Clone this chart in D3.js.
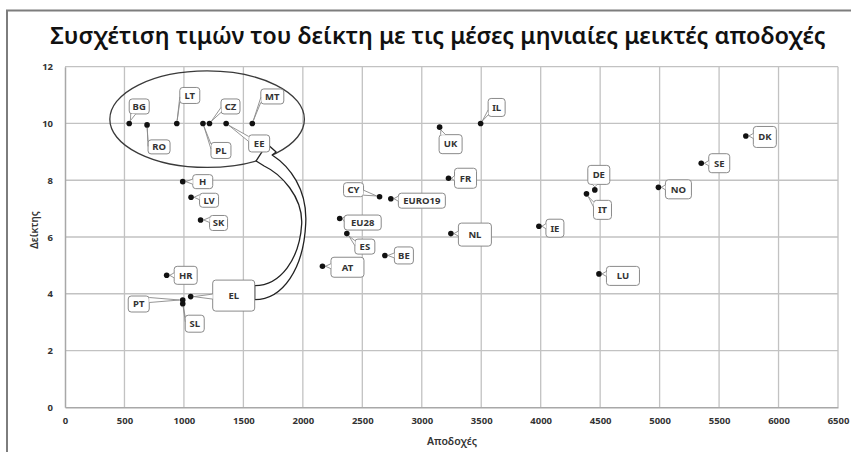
<!DOCTYPE html>
<html>
<head>
<meta charset="utf-8">
<script src="https://cdn.jsdelivr.net/npm/d3@7"></script>
<style>
  html, body { margin: 0; padding: 0; background: #fff; }
  svg { display: block; }
</style>
</head>
<body>
<svg id="chart"></svg>
<script>
const WIDTH = 851;
const HEIGHT = 452;
const PLOT = { left: 65, right: 838, top: 66.7, bottom: 407.3 };

const TITLE = 'Συσχέτιση τιμών του δείκτη με τις μέσες μηνιαίες μεικτές αποδοχές';
const X_LABEL = 'Αποδοχές';
const Y_LABEL = 'Δείκτης';

// data
const countries = ['BG', 'RO', 'LT', 'PL', 'CZ', 'EE', 'MT', 'H', 'LV', 'SK', 'HR', 'PT', 'SL', 'EL',
  'CY', 'EURO19', 'EU28', 'ES', 'AT', 'BE', 'UK', 'IL', 'FR', 'NL', 'IE', 'IT', 'DE', 'LU', 'NO', 'SE', 'DK'];
const wages = [540, 690, 940, 1160, 1215, 1355, 1575, 990, 1060, 1140, 855, 990, 990, 1057,
  2645, 2740, 2310, 2370, 2165, 2690, 3150, 3495, 3225, 3245, 3985, 4385, 4455, 4490, 4990, 5350, 5725];
const indexValues = [10.0, 9.95, 10.0, 10.0, 10.0, 10.0, 10.0, 7.95, 7.4, 6.6, 4.65, 3.78, 3.65, 3.9,
  7.42, 7.35, 6.65, 6.12, 4.97, 5.35, 9.87, 10.0, 8.07, 6.12, 6.38, 7.52, 7.66, 4.7, 7.75, 8.6, 9.56];

const xTicks = [0, 500, 1000, 1500, 2000, 2500, 3000, 3500, 4000, 4500, 5000, 5500, 6000, 6500];
const yTicks = [0, 2, 4, 6, 8, 10, 12];

// callout box placement relative to its point: [dx, dy, w, h] (pixels)
const calloutLayout = {
  BG: [10, -17, 20, 15], RO: [12, 22, 22, 14], LT: [13, -28, 20, 16], PL: [18, 27, 20, 16],
  CZ: [21, -17, 19, 15], EE: [33, 20, 21, 17], MT: [20, -27, 23, 15], H: [20, 0, 20, 14],
  LV: [18, 3, 19, 14], SK: [18, 3, 18, 15], HR: [19, 0, 23, 18], PT: [-44, 4, 21, 16],
  SL: [12, 20, 19, 17], EL: [43, -1, 42, 31], CY: [-26, -7, 20, 14], EURO19: [31, 2, 47, 15],
  EU28: [23, 4, 37, 15], ES: [18, 13, 20, 15], AT: [25, 1, 33, 20], BE: [19, 0, 19, 17],
  UK: [11, 17, 23, 19], IL: [16, -16, 17, 18], FR: [17, 0, 22, 20], NL: [24, 1, 33, 23],
  IE: [16, 2, 18, 18], IT: [16, 16, 18, 19], DE: [4, -15, 22, 19], LU: [24, 2, 33, 19],
  NO: [20, 2, 26, 19], SE: [18, 0, 21, 19], DK: [19, 1, 23, 21]
};

// the ellipse round the top-left group, in data units
const GROUP_ELLIPSE = { cx: 1195, cy: 10.15, rx: 818, ry: 1.7 };

const FONT = '"Noto Sans", "Open Sans", sans-serif';

const svg = d3.select('#chart')
  .attr('width', WIDTH)
  .attr('height', HEIGHT)
  .style('font-family', FONT);

const x = d3.scaleLinear().domain([0, 6500]).range([PLOT.left, PLOT.right]);
const y = d3.scaleLinear().domain([0, 12]).range([PLOT.bottom, PLOT.top]);

// outer frame (top and left only show in the picture)
svg.append('path')
  .attr('d', `M7,${HEIGHT} L7,10.5 L${WIDTH},10.5`)
  .attr('fill', 'none')
  .attr('stroke', '#7d7d7d')
  .attr('stroke-width', 2);

// title, fitted to the width it takes in the picture
const title = svg.append('text')
  .attr('x', 438)
  .attr('y', 44)
  .attr('text-anchor', 'middle')
  .attr('font-size', 23)
  .attr('font-weight', 600)
  .attr('fill', '#111')
  .text(TITLE);
const titleLen = title.node().getComputedTextLength();
title.attr('font-size', 23 * 776 / titleLen);

// grid
const grid = svg.append('g').attr('stroke', '#c2c2c2').attr('stroke-width', 1.3);
grid.selectAll('.vline')
  .data(xTicks.filter(d => d > 0))
  .join('line')
  .attr('x1', d => x(d)).attr('x2', d => x(d))
  .attr('y1', y(12)).attr('y2', y(0));
grid.selectAll('.hline')
  .data(yTicks.filter(d => d > 0))
  .join('line')
  .attr('x1', x(0)).attr('x2', x(6500))
  .attr('y1', d => y(d)).attr('y2', d => y(d));

// axes
const xAxis = svg.append('g')
  .attr('transform', `translate(0,${y(0)})`)
  .call(d3.axisBottom(x).tickValues(xTicks).tickSize(0).tickPadding(10).tickFormat(d3.format('d')));
const yAxis = svg.append('g')
  .attr('transform', `translate(${x(0)},0)`)
  .call(d3.axisLeft(y).tickValues(yTicks).tickSize(0).tickPadding(12).tickFormat(d3.format('d')));
[xAxis, yAxis].forEach(ax => {
  ax.select('.domain').attr('stroke', '#a8a8a8').attr('stroke-width', 1.5);
  ax.selectAll('text')
    .attr('font-family', FONT)
    .attr('font-size', 9.5)
    .attr('font-weight', 700)
    .attr('fill', '#333');
});

svg.append('text')
  .attr('x', 452)
  .attr('y', 445)
  .attr('text-anchor', 'middle')
  .attr('font-size', 10.5)
  .attr('font-weight', 600)
  .attr('fill', '#333')
  .text(X_LABEL);

svg.append('text')
  .attr('transform', 'translate(38,230) rotate(-90)')
  .attr('text-anchor', 'middle')
  .attr('font-size', 10)
  .attr('font-weight', 600)
  .attr('fill', '#333')
  .text(Y_LABEL);

// ellipse round the lower-paid group
svg.append('ellipse')
  .attr('cx', x(GROUP_ELLIPSE.cx))
  .attr('cy', y(GROUP_ELLIPSE.cy))
  .attr('rx', x(GROUP_ELLIPSE.rx) - x(0))
  .attr('ry', y(0) - y(GROUP_ELLIPSE.ry))
  .attr('fill', 'none')
  .attr('stroke', '#3a3a3a')
  .attr('stroke-width', 1.3);

const points = countries.map((c, i) => {
  const px = x(wages[i]);
  const py = y(indexValues[i]);
  const [dx, dy, w, h] = calloutLayout[c];
  const cx = px + dx;
  const cy = py + dy;
  return { name: c, px, py, x0: cx - w / 2, x1: cx + w / 2, y0: cy - h / 2, y1: cy + h / 2, cx, cy };
});

// curved arrow from the EL box up to the EE box
const el = points.find(d => d.name === 'EL');
const ee = points.find(d => d.name === 'EE');
{
  const sx = el.x1;             // arrow leaves the right side of EL
  const sTop = el.cy - 10;
  const sBot = el.cy + 4;
  const tx = ee.cx + 8;         // tip at the bottom of EE
  const ty = ee.y1 - 8;
  const bend = sx + 51;
  const mid = (sTop + ty) / 2 + 4;
  const d = [
    `M${tx},${ty}`,
    `L${tx + 9},${ty + 8}`,
    `L${tx + 5},${ty + 11}`,
    `C${tx + 22},${ty + 22} ${bend + 2},${mid - 30} ${bend},${mid + 5}`,
    `C${bend - 2},${mid + 50} ${sx + 28},${sBot} ${sx},${sBot}`,
    `L${sx},${sTop}`,
    `C${sx + 26},${sTop} ${bend - 6},${mid + 40} ${bend - 4},${mid + 5}`,
    `C${bend - 3},${mid - 22} ${tx + 14},${ty + 30} ${tx - 3},${ty + 22}`,
    `L${tx - 11},${ty + 17}`,
    'Z'
  ].join(' ');
  svg.append('path')
    .attr('d', d)
    .attr('fill', '#fff')
    .attr('stroke', '#222')
    .attr('stroke-width', 1.3)
    .attr('stroke-linejoin', 'round');
}

// callouts
const clamp = (v, a, b) => Math.max(a, Math.min(b, v));
function tailPath(d) {
  let ax, ay, b1, b2;
  if (d.px < d.x0) {
    ax = d.x0; ay = clamp(d.py, d.y0 + 4, d.y1 - 4);
    b1 = [ax, ay - 2.5]; b2 = [ax, ay + 2.5];
  } else if (d.px > d.x1) {
    ax = d.x1; ay = clamp(d.py, d.y0 + 4, d.y1 - 4);
    b1 = [ax, ay - 2.5]; b2 = [ax, ay + 2.5];
  } else if (d.py < d.y0) {
    ay = d.y0; ax = clamp(d.px, d.x0 + 4, d.x1 - 4);
    b1 = [ax - 2.5, ay]; b2 = [ax + 2.5, ay];
  } else {
    ay = d.y1; ax = clamp(d.px, d.x0 + 4, d.x1 - 4);
    b1 = [ax - 2.5, ay]; b2 = [ax + 2.5, ay];
  }
  const len = Math.hypot(d.px - ax, d.py - ay) || 1;
  const tip = [d.px + (ax - d.px) / len * 3, d.py + (ay - d.py) / len * 3];
  return `M${b1[0]},${b1[1]} L${tip[0]},${tip[1]} L${b2[0]},${b2[1]}`;
}

const callout = svg.append('g').selectAll('g')
  .data(points)
  .join('g');

callout.append('rect')
  .attr('x', d => d.x0)
  .attr('y', d => d.y0)
  .attr('width', d => d.x1 - d.x0)
  .attr('height', d => d.y1 - d.y0)
  .attr('rx', 3)
  .attr('fill', '#fff')
  .attr('stroke', '#8a8a8a')
  .attr('stroke-width', 1);

callout.append('path')
  .attr('d', tailPath)
  .attr('fill', '#fff')
  .attr('stroke', '#8a8a8a')
  .attr('stroke-width', 0.9);

callout.append('text')
  .attr('x', d => d.cx)
  .attr('y', d => d.cy)
  .attr('dy', '0.35em')
  .attr('text-anchor', 'middle')
  .attr('font-size', 9.5)
  .attr('font-weight', 700)
  .attr('fill', '#333')
  .text(d => d.name);

svg.append('g').selectAll('circle')
  .data(points)
  .join('circle')
  .attr('cx', d => d.px)
  .attr('cy', d => d.py)
  .attr('r', 2.8)
  .attr('fill', '#111');
</script>
</body>
</html>
